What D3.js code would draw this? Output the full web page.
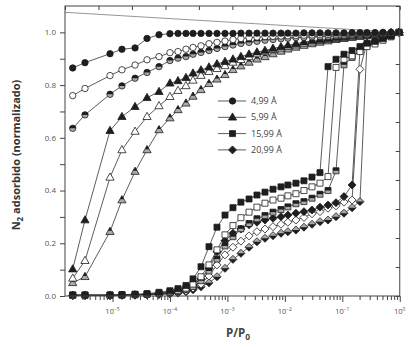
<!DOCTYPE html>
<html><head><meta charset="utf-8">
<script src="https://cdn.jsdelivr.net/npm/d3@7/dist/d3.min.js"></script>
<style>html,body{margin:0;padding:0;background:#fff;}svg{display:block;}</style>
</head><body>
<svg id="chart" width="413" height="347"></svg>
<script>
// ---------- data ----------
const pressure = [2.03e-6,3.32e-6,9.05e-6,1.46e-5,2.47e-5,3.99e-5,6.45e-5,1.0e-4,1.38e-4,1.90e-4,
  2.52e-4,3.47e-4,4.78e-4,6.59e-4,9.08e-4,1.25e-3,1.72e-3,2.38e-3,3.27e-3,4.51e-3,
  6.22e-3,8.57e-3,1.13e-2,1.56e-2,2.15e-2,2.97e-2,4.09e-2,5.64e-2,7.77e-2,0.107,
  0.148,0.203,0.269,0.371,0.511,0.705,0.97];

const c499_filled = [0.865,0.885,0.919,0.936,0.941,0.977,0.991,0.995,0.996,0.996,
  0.996,0.996,0.996,0.996,0.996,0.996,0.997,0.997,0.997,0.997,
  0.997,0.997,0.997,0.997,0.998,0.998,0.998,0.998,0.998,0.998,
  0.999,0.999,0.999,0.999,1.0,1.0,1.0];
const c499_open = [0.760,0.787,0.836,0.858,0.876,0.896,0.908,0.923,0.927,0.936,
  0.943,0.949,0.957,0.962,0.967,0.973,0.977,0.980,0.982,0.984,
  0.985,0.986,0.987,0.988,0.989,0.990,0.991,0.992,0.993,0.994,
  0.995,0.996,0.997,0.998,0.998,0.999,1.0];
const c499_half = [0.636,0.687,0.765,0.797,0.826,0.848,0.870,0.893,0.902,0.908,
  0.917,0.924,0.931,0.939,0.946,0.952,0.958,0.962,0.966,0.970,
  0.973,0.976,0.978,0.980,0.981,0.983,0.984,0.985,0.987,0.988,
  0.990,0.991,0.993,0.995,0.996,0.998,1.0];

const t599_filled = [0.102,0.288,0.627,0.680,0.718,0.752,0.775,0.807,0.816,0.828,
  0.845,0.857,0.868,0.880,0.889,0.898,0.908,0.917,0.925,0.931,
  0.939,0.945,0.951,0.957,0.963,0.968,0.972,0.976,0.980,0.983,
  0.986,0.989,0.991,0.994,0.996,0.998,1.0];
const t599_open = [0.067,0.134,0.450,0.554,0.624,0.680,0.721,0.756,0.779,0.797,
  0.818,0.836,0.851,0.862,0.873,0.886,0.896,0.907,0.918,0.926,
  0.934,0.940,0.946,0.952,0.958,0.963,0.968,0.972,0.976,0.980,
  0.983,0.986,0.989,0.992,0.995,0.997,1.0];
const t599_half = [0.050,0.073,0.244,0.364,0.472,0.554,0.630,0.675,0.706,0.731,
  0.757,0.782,0.805,0.822,0.839,0.858,0.872,0.886,0.898,0.907,
  0.918,0.928,0.936,0.943,0.950,0.956,0.962,0.967,0.972,0.976,
  0.980,0.984,0.987,0.991,0.994,0.997,1.0];

const s1599_filled = [0.004,0.004,0.004,0.005,0.007,0.009,0.014,0.020,0.028,0.040,
  0.065,0.111,0.187,0.261,0.307,0.335,0.356,0.368,0.383,0.394,
  0.405,0.414,0.421,0.428,0.437,0.451,0.468,0.870,0.898,0.917,
  0.931,0.946,0.959,0.966,0.976,0.986,1.0];
const s1599_open = [0.003,0.003,0.003,0.004,0.005,0.007,0.011,0.016,0.022,0.030,
  0.045,0.073,0.118,0.175,0.232,0.267,0.297,0.318,0.337,0.352,
  0.364,0.371,0.380,0.388,0.400,0.414,0.428,0.453,0.867,0.898,
  0.911,0.927,0.946,0.956,0.970,0.983,1.0];
const s1599_half = [0.003,0.003,0.003,0.004,0.005,0.006,0.009,0.013,0.018,0.025,
  0.036,0.058,0.095,0.140,0.190,0.225,0.255,0.275,0.293,0.305,
  0.318,0.328,0.338,0.350,0.358,0.371,0.386,0.400,0.475,0.877,
  0.905,0.930,0.950,0.963,0.975,0.986,1.0];

const d2099_filled = [0.003,0.003,0.003,0.004,0.005,0.006,0.009,0.013,0.018,0.027,
  0.042,0.065,0.105,0.168,0.210,0.238,0.254,0.270,0.280,0.288,
  0.295,0.301,0.307,0.314,0.320,0.326,0.337,0.345,0.354,0.377,
  0.421,0.935,0.955,0.965,0.975,0.986,1.0];
const d2099_open = [0.002,0.002,0.002,0.003,0.004,0.005,0.007,0.010,0.014,0.020,
  0.030,0.045,0.076,0.118,0.156,0.185,0.208,0.228,0.244,0.254,
  0.263,0.272,0.280,0.288,0.298,0.312,0.320,0.333,0.342,0.356,
  0.364,0.860,0.960,0.968,0.977,0.987,1.0];
const d2099_half = [0.002,0.002,0.002,0.003,0.003,0.004,0.006,0.008,0.011,0.016,
  0.024,0.035,0.050,0.073,0.105,0.139,0.162,0.185,0.206,0.219,
  0.229,0.238,0.244,0.250,0.261,0.272,0.282,0.288,0.301,0.314,
  0.335,0.358,0.960,0.968,0.977,0.987,1.0];

const refLineP = [1.49e-6, 1.0];
const refLineV = [1.076, 1.0];

const legendLabels = ["4,99 Å", "5,99 Å", "15,99 Å", "20,99 Å"];
const xTickExponents = [-5, -4, -3, -2, -1, 0];
const yTickValues = [0, 0.2, 0.4, 0.6, 0.8, 1.0];
const yTickLabels = ["0.0", "0.2", "0.4", "0.6", "0.8", "1.0"];

// ---------- drawing ----------
const svg = d3.select('#chart');
const FONT = "'Open Sans','DejaVu Sans',sans-serif";
const x = d3.scaleLog().domain([1.49e-6, 1]).range([65, 399.75]);
const y = d3.scaleLinear().domain([0, 1.1]).range([296, 6]);
const L = 65, R = 399.75, T = 6, B = 296;

// series table (built from the arrays above)
const seriesTable = [
  {v: d2099_half, shape: 'diamond', kind: 'half'},
  {v: d2099_open, shape: 'diamond', kind: 'open'},
  {v: d2099_filled, shape: 'diamond', kind: 'filled'},
  {v: s1599_half, shape: 'square', kind: 'half'},
  {v: s1599_open, shape: 'square', kind: 'open'},
  {v: s1599_filled, shape: 'square', kind: 'filled'},
  {v: t599_half, shape: 'triangle', kind: 'half'},
  {v: t599_open, shape: 'triangle', kind: 'open'},
  {v: t599_filled, shape: 'triangle', kind: 'filled'},
  {v: c499_half, shape: 'circle', kind: 'half'},
  {v: c499_open, shape: 'circle', kind: 'open'},
  {v: c499_filled, shape: 'circle', kind: 'filled'}
];

function fullPath(shape) {
  switch (shape) {
    case 'circle': { const r = 3.2; return `M${-r},0A${r},${r} 0 1,1 ${r},0A${r},${r} 0 1,1 ${-r},0Z`; }
    case 'triangle': return 'M0,-4.4L4.1,2.8L-4.1,2.8Z';
    case 'square': return 'M-3,-3H3V3H-3Z';
    case 'diamond': return 'M0,-4L4,0L0,4L-4,0Z';
  }
}
function halfPath(shape) {
  switch (shape) {
    case 'circle': { const r = 3.2; return `M${-r},0A${r},${r} 0 0,1 ${r},0Z`; }
    case 'triangle': return 'M0,-4.4L2.05,-0.8L-2.05,-0.8Z';
    case 'square': return 'M-3,-3H3V0H-3Z';
    case 'diamond': return 'M-4,0L4,0L0,4Z';
  }
}
const baseFill = {filled: '#1e1e1e', open: '#ffffff', half: '#a9a9a9'};

// reference line at the top
svg.append('path')
  .datum(refLineP.map((p, i) => [p, refLineV[i]]))
  .attr('d', d3.line().x(d => x(d[0])).y(d => y(d[1])))
  .attr('fill', 'none').attr('stroke', '#8a8a8a').attr('stroke-width', 0.9);

const line = d3.line().x(d => x(d[0])).y(d => y(d[1]));
seriesTable.forEach(s => {
  const pts = pressure.map((p, i) => [p, s.v[i]]);
  svg.append('path').datum(pts).attr('d', line)
    .attr('fill', 'none').attr('stroke', '#333').attr('stroke-width', 0.8);
});
seriesTable.forEach(s => {
  const pts = pressure.map((p, i) => [p, s.v[i]]);
  const g = svg.append('g').selectAll('g').data(pts).join('g')
    .attr('transform', d => `translate(${x(d[0])},${y(d[1])})`);
  g.append('path').attr('d', fullPath(s.shape))
    .attr('fill', baseFill[s.kind]).attr('stroke', '#1e1e1e').attr('stroke-width', 0.8);
  if (s.kind === 'half') {
    g.append('path').attr('d', halfPath(s.shape)).attr('fill', '#1e1e1e');
  }
});

// frame
svg.append('rect').attr('x', L).attr('y', T).attr('width', R - L).attr('height', B - T)
  .attr('fill', 'none').attr('stroke', '#444').attr('stroke-width', 1);

// bottom axis: majors + minors
const majors = xTickExponents.map(e => Math.pow(10, e));
const minors = [];
for (let e = -6; e < 0; e++) for (let m = 2; m < 10; m++) {
  const v = m * Math.pow(10, e);
  if (v >= x.domain()[0]) minors.push(v);
}
const gMaj = svg.append('g').attr('transform', `translate(0,${B})`)
  .call(d3.axisBottom(x).tickValues(majors).tickSize(6).tickFormat(''));
const gMin = svg.append('g').attr('transform', `translate(0,${B})`)
  .call(d3.axisBottom(x).tickValues(minors).tickSize(4).tickFormat(''));
[gMaj, gMin].forEach(g => { g.select('.domain').remove(); g.selectAll('line').attr('stroke', '#444'); g.selectAll('text').remove(); });

xTickExponents.forEach(e => {
  const t = svg.append('text').attr('x', x(Math.pow(10, e))).attr('y', 314)
    .attr('text-anchor', 'middle').attr('font-family', FONT).attr('font-size', 7.5).attr('fill', '#555');
  t.append('tspan').text('10');
  t.append('tspan').attr('dy', -3.5).attr('font-size', 5).text(e === 0 ? '0' : '\u2212' + Math.abs(e));
});

// left axis
const yMinor = d3.range(0, 11).map(i => i / 10);
const gL = svg.append('g').attr('transform', `translate(${L},0)`)
  .call(d3.axisLeft(y).tickValues(yMinor).tickSize(5).tickFormat(''));
gL.select('.domain').remove(); gL.selectAll('line').attr('stroke', '#444'); gL.selectAll('text').remove();
yTickValues.forEach((v, i) => {
  svg.append('text').attr('x', 56).attr('y', y(v)).attr('dy', '0.35em')
    .attr('text-anchor', 'end').attr('font-family', FONT).attr('font-size', 8).attr('fill', '#555')
    .text(yTickLabels[i]);
});

// top and right axes (evenly spaced inner ticks)
const xTop = d3.scaleLinear().domain([0, 10]).range([L, R]);
const yRight = d3.scaleLinear().domain([0, 10]).range([B, T]);
const gT = svg.append('g').attr('transform', `translate(0,${T})`)
  .call(d3.axisTop(xTop).ticks(10).tickSize(-4).tickFormat(''));
const gR = svg.append('g').attr('transform', `translate(${R},0)`)
  .call(d3.axisRight(yRight).ticks(10).tickSize(-4).tickFormat(''));
[gT, gR].forEach(g => { g.select('.domain').remove(); g.selectAll('line').attr('stroke', '#444'); });

// legend
const legendShapes = ['circle', 'triangle', 'square', 'diamond'];
legendLabels.forEach((lab, i) => {
  const ly = 101 + i * 16.3;
  svg.append('line').attr('x1', 218).attr('x2', 246).attr('y1', ly).attr('y2', ly)
    .attr('stroke', '#333').attr('stroke-width', 0.8);
  svg.append('path').attr('transform', `translate(232.5,${ly})`).attr('d', fullPath(legendShapes[i]))
    .attr('fill', '#1e1e1e').attr('stroke', '#1e1e1e').attr('stroke-width', 0.8);
  svg.append('text').attr('x', 251).attr('y', ly).attr('dy', '0.35em')
    .attr('font-family', FONT).attr('font-size', 9).attr('fill', '#444').text(lab);
});

// axis titles
const yt = svg.append('text').attr('transform', 'translate(20,155) rotate(-90)')
  .attr('text-anchor', 'middle').attr('font-family', FONT).attr('font-weight', 'bold')
  .attr('font-size', 11).attr('fill', '#333');
yt.append('tspan').text('N');
yt.append('tspan').attr('dy', 3).attr('font-size', 8).text('2');
yt.append('tspan').attr('dy', -3).text(' adsorbido (normalizado)');

const xt = svg.append('text').attr('x', 238).attr('y', 337)
  .attr('text-anchor', 'middle').attr('font-family', FONT).attr('font-weight', 'bold')
  .attr('font-size', 11.5).attr('fill', '#444');
xt.append('tspan').text('P/P');
xt.append('tspan').attr('dy', 3).attr('font-size', 8.5).text('0');
</script>
</body></html>
